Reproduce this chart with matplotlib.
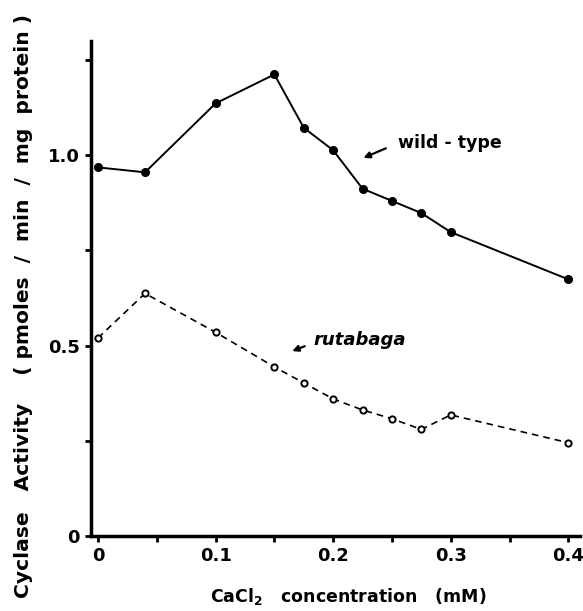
import matplotlib
matplotlib.use("Agg")
import matplotlib.pyplot as plt
from matplotlib.ticker import MultipleLocator, FixedLocator

# CaCl2 concentration (mM)
conc = [0, 0.04, 0.1, 0.15, 0.175, 0.2, 0.225, 0.25, 0.275, 0.3, 0.4]
# cyclase activity (pmoles / min / mg protein)
wild_type = [0.968, 0.955, 1.136, 1.212, 1.072, 1.013, 0.912, 0.880, 0.848, 0.798, 0.674]
rutabaga = [0.520, 0.637, 0.535, 0.444, 0.402, 0.360, 0.331, 0.308, 0.280, 0.318, 0.245]

x_ticks = [0, 0.1, 0.2, 0.3, 0.4]
x_ticklabels = ["0", "0.1", "0.2", "0.3", "0.4"]
y_ticks = [0, 0.5, 1.0]
y_ticklabels = ["0", "0.5", "1.0"]

plt.rcParams['font.family'] = ['DejaVu Sans']
plt.rcParams['font.weight'] = 'bold'

fig = plt.figure(figsize=(5.83, 6.11), dpi=100)
ax = fig.add_axes([0.156, 0.1227, 0.839, 0.8103])

ax.plot(conc, wild_type, '-', color='black', lw=1.4, marker='o', ms=5.5,
        mfc='black', mec='black', clip_on=False)
ax.plot(conc, rutabaga, '--', color='black', lw=1.2, dashes=(4, 3), marker='o', ms=4.5,
        mfc='white', mec='black', mew=1.4, clip_on=False)

ax.set_xlim(-0.006, 0.41)
ax.set_ylim(0, 1.30)

for s in ['top', 'right']:
    ax.spines[s].set_visible(False)
for s in ['left', 'bottom']:
    ax.spines[s].set_linewidth(2.5)

ax.xaxis.set_major_locator(FixedLocator(x_ticks))
ax.set_xticklabels(x_ticklabels)
ax.xaxis.set_minor_locator(MultipleLocator(0.05))
ax.yaxis.set_major_locator(FixedLocator(y_ticks))
ax.set_yticklabels(y_ticklabels)
ax.yaxis.set_minor_locator(MultipleLocator(0.25))
ax.tick_params(which='both', direction='out', length=4, width=2)
ax.tick_params(axis='both', labelsize=13, pad=4)

fig.text(0.597, 0.023, "CaCl$_\\mathbf{2}$   concentration   (mM)", fontsize=12.5,
         fontweight='bold', ha='center', va='center')
fig.text(0.040, 0.500, "Cyclase   Activity    ( pmoles  /  min  /  mg  protein )", fontsize=14.6,
         fontweight='bold', ha='center', va='center', rotation=90)

ax.annotate("", xy=(0.2236, 0.99), xytext=(0.247, 1.021),
            arrowprops=dict(arrowstyle='-|>', color='black', lw=1.6, mutation_scale=9))
ax.text(0.255, 1.031, "wild - type", fontsize=12.5, fontweight='bold', va='center', ha='left')

ax.annotate("", xy=(0.163, 0.483), xytext=(0.178, 0.501),
            arrowprops=dict(arrowstyle='-|>', color='black', lw=1.6, mutation_scale=9))
ax.text(0.183, 0.514, "rutabaga", fontsize=13, fontweight='bold', fontstyle='italic',
        va='center', ha='left')

fig.savefig("out.png", dpi=100)
